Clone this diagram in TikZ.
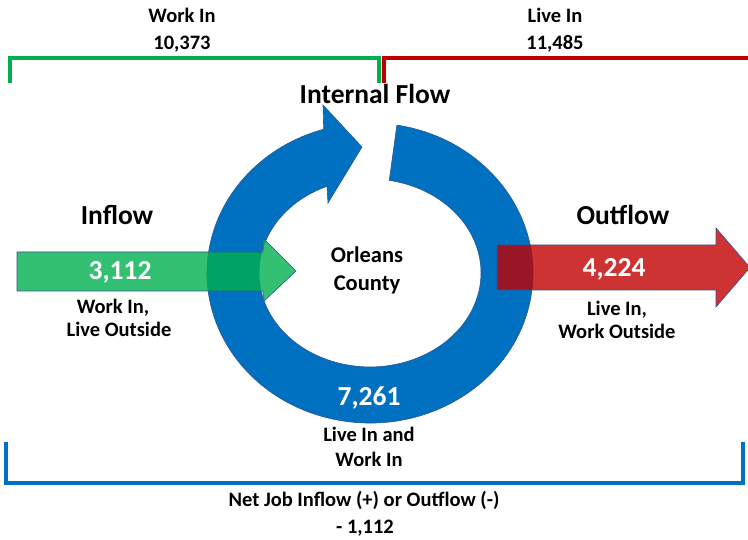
\documentclass[tikz,border=0pt]{standalone}
\usepackage{fontspec}
\setmainfont{Carlito}
\definecolor{ringblue}{HTML}{0070C0}
\definecolor{ringedge}{HTML}{2F5597}
\definecolor{ingreen}{HTML}{00B050}
\definecolor{outred}{HTML}{C00000}
\begin{document}
\begin{tikzpicture}[x=1pt,y=1pt,
  lbl/.style={font=\fontsize{20.5}{24}\selectfont\bfseries, anchor=base, inner sep=0pt},
  big/.style={font=\fontsize{27.5}{32}\selectfont\bfseries, anchor=base, inner sep=0pt},
  mid/.style={font=\fontsize{22.5}{26}\selectfont\bfseries, anchor=base, inner sep=0pt},
  num/.style={big, text=white},
  bracket/.style={line width=4.3pt, line join=miter},
  flow/.style={draw=ringedge, line width=0.6pt, fill opacity=0.8}]
\useasboundingbox (0,0) rectangle (748,539);

% brackets
\draw[bracket, ingreen] (10,455.5) -- (10,481) -- (379,481) -- (379,455.5);
\draw[bracket, outred] (384,455.5) -- (384,481) -- (752,481);
\draw[bracket, ringblue] (6,97) -- (6,56) -- (743,56) -- (743,97);

% circular arrow
\path[fill=ringblue, draw=ringedge, line width=0.6pt]
  (396.9,413.9) arc[start angle=80.5, end angle=-253.5, x radius=163, y radius=150]
  -- (323,434) -- (362,392) -- (328,336)
  -- (327,352.7) arc[start angle=-247.2, end angle=80, x radius=111, y radius=94] -- cycle;

% inflow / outflow arrows
\path[flow, fill=ingreen] (17,287) -- (263,287) -- (263,301) -- (296,268) -- (263,237) -- (263,248) -- (17,248) -- cycle;
\path[flow, fill=outred] (497,294) -- (716,294) -- (716,311) -- (750,271.5) -- (716,232) -- (716,249) -- (497,249) -- cycle;

% texts
\node[lbl] (workin) at (182,516) {Work In};
\node[lbl] (workinnum) at (182,489) {10,373};
\node[lbl] (livein) at (555,516) {Live In};
\node[lbl] (liveinnum) at (555,489) {11,485};
\node[big] (internal) at (375,435) {Internal Flow};
\node[big] (inflow) at (117,314) {Inflow};
\node[big] (outflow) at (623,314) {Outflow};
\node[num] (innum) at (120,259) {3,112};
\node[num] (outnum) at (614,262) {4,224};
\node[num] (intnum) at (369,133) {7,261};
\node[lbl] (inl1) at (113,225) {Work In,};
\node[lbl] (inl2) at (119,202) {Live Outside};
\node[lbl] (outl1) at (617,223) {Live In,};
\node[lbl] (outl2) at (617,200) {Work Outside};
\node[mid] (county1) at (367,276) {Orleans};
\node[mid] (county2) at (367,248) {County};
\node[lbl] (intl1) at (369,97) {Live In and};
\node[lbl] (intl2) at (369,73) {Work In};
\node[lbl] (net1) at (364,33) {Net Job Inflow (+) or Outflow (-)};
\node[lbl] (net2) at (365,6) {- 1,112};
\end{tikzpicture}
\end{document}
